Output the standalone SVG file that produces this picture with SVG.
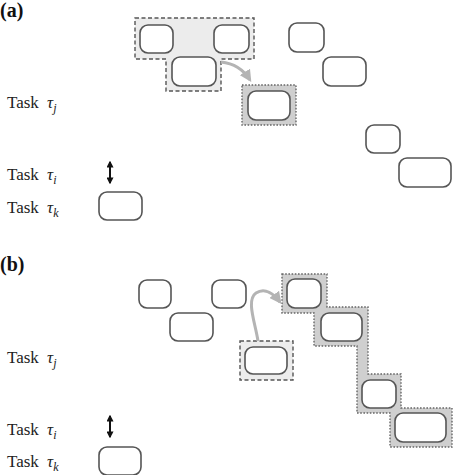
<svg xmlns="http://www.w3.org/2000/svg" width="457" height="475" viewBox="0 0 457 475">
<style>
.bx{fill:#fff;stroke:#555;stroke-width:1.6}
.dash{fill:#ececec;stroke:#555;stroke-width:1.4;stroke-dasharray:4,2.5}
.dot{fill:#cfcfcf;stroke:#666;stroke-width:1.4;stroke-dasharray:1.6,1.6}
.lbl{font-size:17px;fill:#222}
.pl{font-size:20px;font-weight:bold;fill:#111}
.garr{fill:none;stroke:#b4b4b4;stroke-width:3}
.barr{stroke:#111;stroke-width:2}
</style>
<defs>
<marker id="gh" viewBox="0 0 10 10" refX="8" refY="5" markerWidth="4" markerHeight="4" orient="auto" markerUnits="strokeWidth">
<path d="M0,0 L10,5 L0,10 z" fill="#b4b4b4"/>
</marker>
<marker id="bh" viewBox="0 0 10 10" refX="8" refY="5" markerWidth="3.5" markerHeight="3.5" orient="auto-start-reverse" markerUnits="strokeWidth">
<path d="M0,0 L10,5 L0,10 z" fill="#111"/>
</marker>
</defs>
<g font-family="'Liberation Serif', 'DejaVu Serif', serif">
<!-- Panel (a) -->
<text class="pl" x="0" y="17">(a)</text>
<g id="a-labels">
<text class="lbl" x="7" y="108">Task <tspan font-style="italic" dx="4">τ</tspan><tspan font-style="italic" font-size="12" dy="4">j</tspan></text>
<text class="lbl" x="7" y="180">Task <tspan font-style="italic" dx="4">τ</tspan><tspan font-style="italic" font-size="12" dy="4">i</tspan></text>
<text class="lbl" x="7" y="213">Task <tspan font-style="italic" dx="4">τ</tspan><tspan font-style="italic" font-size="12" dy="4">k</tspan></text>
</g>
<g id="a-group-dashed">
<path class="dash" d="M135,18 H254 V59 H221 V91 H166 V59 H135 Z"/>
</g>
<g id="a-group-dotted">
<rect class="dot" x="242" y="85" width="54" height="40"/>
</g>
<g id="a1"><rect class="bx" x="140" y="25" width="33" height="28" rx="8"/></g>
<g id="a2"><rect class="bx" x="214" y="25" width="35" height="28" rx="8"/></g>
<g id="a3"><rect class="bx" x="172" y="57" width="44" height="29" rx="8"/></g>
<g id="a4"><rect class="bx" x="248" y="91" width="42" height="29" rx="8"/></g>
<g id="a5"><rect class="bx" x="289" y="23" width="35" height="29" rx="8"/></g>
<g id="a6"><rect class="bx" x="323" y="57" width="43" height="29" rx="8"/></g>
<g id="a7"><rect class="bx" x="366" y="125" width="34" height="28" rx="8"/></g>
<g id="a8"><rect class="bx" x="399" y="158" width="52" height="29" rx="8"/></g>
<g id="a9"><rect class="bx" x="99" y="192" width="43" height="28" rx="8"/></g>

<!-- Panel (b) -->
<text class="pl" x="0" y="271">(b)</text>
<g id="b-labels">
<text class="lbl" x="7" y="363">Task <tspan font-style="italic" dx="4">τ</tspan><tspan font-style="italic" font-size="12" dy="4">j</tspan></text>
<text class="lbl" x="7" y="435">Task <tspan font-style="italic" dx="4">τ</tspan><tspan font-style="italic" font-size="12" dy="4">i</tspan></text>
<text class="lbl" x="7" y="467">Task <tspan font-style="italic" dx="4">τ</tspan><tspan font-style="italic" font-size="12" dy="4">k</tspan></text>
</g>
<g id="b-group-dashed">
<rect class="dash" x="240" y="341" width="53" height="39"/>
</g>
<g id="b-group-dotted">
<path class="dot" d="M282,274 H327 V307 H368 V374 H401 V408 H452 V447 H390 V413 H357 V346 H314 V313 H282 Z"/>
</g>
<g id="b1"><rect class="bx" x="139" y="280" width="32" height="28" rx="8"/></g>
<g id="b2"><rect class="bx" x="212" y="280" width="34" height="28" rx="8"/></g>
<g id="b3"><rect class="bx" x="170" y="313" width="43" height="28" rx="8"/></g>
<g id="b4"><rect class="bx" x="245" y="347" width="42" height="27" rx="8"/></g>
<g id="b5"><rect class="bx" x="287" y="279" width="34" height="29" rx="8"/></g>
<g id="b6"><rect class="bx" x="321" y="313" width="41" height="28" rx="8"/></g>
<g id="b7"><rect class="bx" x="362" y="380" width="34" height="28" rx="8"/></g>
<g id="b8"><rect class="bx" x="395" y="413" width="51" height="29" rx="8"/></g>
<g id="b9"><rect class="bx" x="99" y="447" width="42" height="28" rx="8"/></g>
</g>
<g id="connectors">
<path class="garr" d="M221,62 Q240,64 250,80" marker-end="url(#gh)"/>
<path class="garr" d="M258,341 C255,322 246,300 256,293 C265,287 274,294 280,302" marker-end="url(#gh)"/>
<line class="barr" x1="110" y1="162" x2="110" y2="183" marker-start="url(#bh)" marker-end="url(#bh)"/>
<line class="barr" x1="110" y1="416" x2="110" y2="437" marker-start="url(#bh)" marker-end="url(#bh)"/>
</g>
</svg>
